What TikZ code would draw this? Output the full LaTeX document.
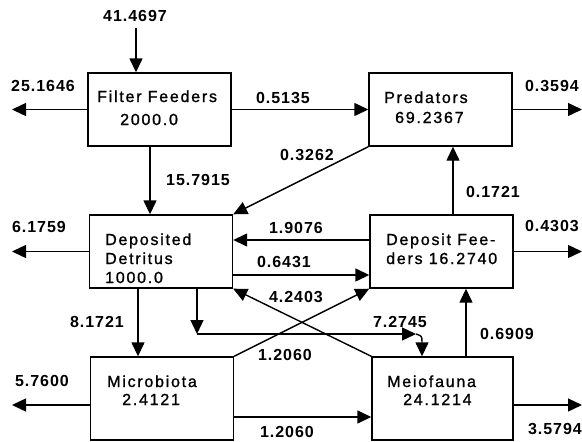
\documentclass[tikz,border=0pt]{standalone}
\usepackage{fontspec}
\setmainfont{Liberation Sans}
\usetikzlibrary{arrows.meta}

\tikzset{
  box/.style={draw, line width=1.4pt, minimum width=143pt, minimum height=73pt, inner sep=0pt},
  flow/.style={line width=1.4pt, -{Triangle[length=14pt,width=13pt]}},
  num/.style={inner sep=0pt, font=\fontsize{16}{19}\selectfont\bfseries\addfontfeature{LetterSpace=6}},
  txt/.style={inner sep=0pt, anchor=base west, font=\fontsize{16}{19}\selectfont\addfontfeature{LetterSpace=11,FakeBold=1.2}}
}

\begin{document}
\begin{tikzpicture}[x=1pt,y=-1pt]
\useasboundingbox (0,0) rectangle (582,442);
\clip (0,0) rectangle (582,442);

%Kaesten
\node[box] (ff) at (159.5,109.5) {};
\node[box] (pr) at (440.5,109.5) {};
\node[box] (dd) at (161,251.5) {};
\node[box] (df) at (441.5,251.5) {};
\node[box, minimum height=83pt] (mi) at (162,398.5) {};
\node[box, minimum height=83pt, minimum width=141pt] (me) at (442.5,398.5) {};

%Beschriftung der Kaesten
\node[txt] (ffa) at (97,102) {Filter Feeders};
\node[txt] (ffb) at (120,125) {2000.0};
\node[txt] (pra) at (384,103) {Predators};
\node[txt] (prb) at (395,123) {69.2367};
\node[txt] (dda) at (105,245) {Deposited};
\node[txt] (ddb) at (105,264) {Detritus};
\node[txt] (ddc) at (105,283) {1000.0};
\node[txt] (dfa) at (386,245) {Deposit Fee-};
\node[txt] (dfb) at (386,264) {ders 16.2740};
\node[txt] (mia) at (107,387) {Microbiota};
\node[txt] (mib) at (122,405) {2.4121};
\node[txt] (mea) at (387,387) {Meiofauna};
\node[txt] (meb) at (403,405) {24.1214};

%freie Enden
\coordinate (ffin) at (136,28);
\coordinate (ffout) at (12,109.5);
\coordinate (prout) at (582,109.5);
\coordinate (ddout) at (12,251.5);
\coordinate (dfout) at (582,251.5);
\coordinate (miout) at (12,405);
\coordinate (meout) at (582,405);
\coordinate (bend) at (197,334);
\coordinate (turn) at (416,334);

%Fluesse
\draw[flow] (ffin) -- ([xshift=-23.5pt]ff.north);
\draw[flow] (ff.west) -- (ffout);
\draw[flow] (ff.east) -- (pr.west);
\draw[flow] (pr.east) -- (prout);
\draw[flow] ([xshift=-9.5pt]ff.south) -- ([xshift=-11pt]dd.north);
\draw[flow] (pr.south west) -- (dd.north east);
\draw[flow] ([xshift=11.5pt]df.north) -- ([xshift=12.5pt]pr.south);
\draw[flow] (dd.west) -- (ddout);
\draw[flow] ([yshift=11.5pt]df.west) -- ([yshift=11.5pt]dd.east);
\draw[flow] ([yshift=-23.5pt]dd.east) -- ([yshift=-23.5pt]df.west);
\draw[flow] (df.east) -- (dfout);
\draw[flow] (me.north west) -- (dd.south east);
\draw[flow] (mi.north east) -- (df.south west);
\draw[flow] ([xshift=-23pt]dd.south) -- ([xshift=-24pt]mi.north);
\draw[flow] ([xshift=36pt]dd.south) -- (bend);
\draw[flow] (bend) -- (turn);
\draw[flow] (turn) .. controls (422,336) .. ([xshift=-20.5pt]me.north);
\draw[flow] ([xshift=23.5pt]me.north) -- ([xshift=24.5pt]df.south);
\draw[flow] ([yshift=-6.5pt]mi.west) -- (miout);
\draw[flow] ([yshift=-18.5pt]mi.east) -- ([yshift=-18.5pt]me.west);
\draw[flow] ([yshift=-6.5pt]me.east) -- (meout);

%Zahlen an den Pfeilen
\foreach \x/\y/\t [count=\i] in
{
135/16/41.4697,
43/86/25.1646,
283/98/0.5135,
552/86/0.3594,
198/180/15.7915,
307/155/0.3262,
493/192/0.1721,
39/227/6.1759,
296/228/1.9076,
284/262/0.6431,
552/226/0.4303,
296/297/4.2403,
400/322/7.2745,
285/355/1.2060,
97/322/8.1721,
507/334/0.6909,
42/381/5.7600,
287/432/1.2060,
555/429/3.5794
}
{
	\node[num] (v\i) at (\x,\y) {\t};
}

\end{tikzpicture}
\end{document}
